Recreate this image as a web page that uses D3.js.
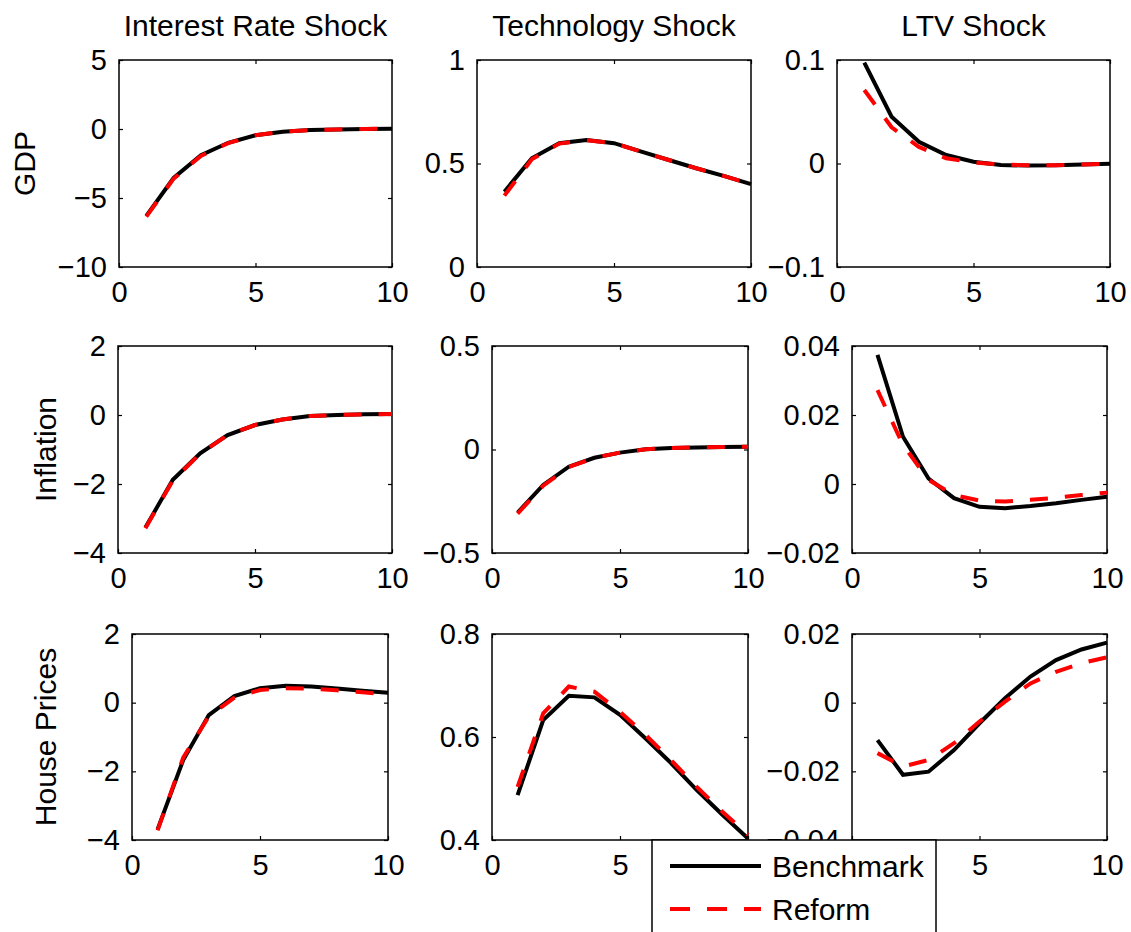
<!DOCTYPE html>
<html>
<head>
<meta charset="utf-8">
<script src="https://cdn.jsdelivr.net/npm/d3@7"></script>
<style>
  body { margin: 0; background: #fff; }
  text { font-family: "Liberation Sans", Arial, sans-serif; fill: #000; }
</style>
</head>
<body>
<div id="chart"></div>
<script>
var width = 1131;
var height = 932;

// data
var steps = [1, 2, 3, 4, 5, 6, 7, 8, 9, 10];
var shocks = ["Interest Rate Shock", "Technology Shock", "LTV Shock"];
var variables = ["GDP", "Inflation", "House Prices"];
var seriesNames = ["Benchmark", "Reform"];
var xTicks = [0, 5, 10];

var gdpRateBench   = [-6.3, -3.55, -1.9, -1.0, -0.45, -0.2, -0.08, -0.03, 0, 0.02];
var gdpRateReform  = [-6.35, -3.6, -1.95, -1.02, -0.45, -0.2, -0.08, -0.03, 0, 0.02];
var gdpTechBench   = [0.364, 0.525, 0.598, 0.613, 0.598, 0.557, 0.517, 0.477, 0.44, 0.4];
var gdpTechReform  = [0.345, 0.52, 0.596, 0.612, 0.598, 0.557, 0.517, 0.477, 0.44, 0.4];
var gdpLtvBench    = [0.0974, 0.0452, 0.021, 0.0082, 0.0017, -0.0015, -0.002, -0.0018, -0.001, -0.0003];
var gdpLtvReform   = [0.071, 0.035, 0.016, 0.005, 0.001, -0.001, -0.0018, -0.0017, -0.001, -0.0003];

var inflRateBench  = [-3.26, -1.88, -1.11, -0.58, -0.29, -0.13, -0.03, 0, 0.02, 0.03];
var inflRateReform = [-3.28, -1.9, -1.12, -0.58, -0.29, -0.13, -0.03, 0, 0.02, 0.03];
var inflTechBench  = [-0.305, -0.171, -0.083, -0.04, -0.015, 0.001, 0.007, 0.01, 0.012, 0.013];
var inflTechReform = [-0.31, -0.175, -0.085, -0.04, -0.015, 0.001, 0.007, 0.01, 0.012, 0.013];
var inflLtvBench   = [0.0374, 0.0137, 0.0016, -0.0041, -0.0066, -0.007, -0.0064, -0.0056, -0.0046, -0.0037];
var inflLtvReform  = [0.0272, 0.0113, 0.0012, -0.0032, -0.0048, -0.0051, -0.0046, -0.004, -0.0032, -0.0025];

var housRateBench  = [-3.69, -1.67, -0.36, 0.195, 0.42, 0.49, 0.47, 0.41, 0.35, 0.29];
var housRateReform = [-3.72, -1.6, -0.4, 0.15, 0.37, 0.42, 0.41, 0.36, 0.3, 0.24];
var housTechBench  = [0.487, 0.633, 0.68, 0.677, 0.643, 0.597, 0.549, 0.497, 0.449, 0.403];
var housTechReform = [0.503, 0.646, 0.698, 0.688, 0.649, 0.604, 0.555, 0.503, 0.455, 0.41];
var housLtvBench   = [-0.0109, -0.021, -0.0201, -0.0138, -0.006, 0.0013, 0.0076, 0.0124, 0.0155, 0.0175];
var housLtvReform  = [-0.0147, -0.0186, -0.0167, -0.0118, -0.0055, 0.0003, 0.0056, 0.009, 0.0115, 0.0132];

var gdpTicks  = [[-10, -5, 0, 5], [0, 0.5, 1], [-0.1, 0, 0.1]];
var inflTicks = [[-4, -2, 0, 2], [-0.5, 0, 0.5], [-0.02, 0, 0.02, 0.04]];
var housTicks = [[-4, -2, 0, 2], [0.4, 0.6, 0.8], [-0.04, -0.02, 0, 0.02]];

// panels, row by row
var panels = [
  { row: 0, col: 0, bench: gdpRateBench,   reform: gdpRateReform,   ticks: gdpTicks[0] },
  { row: 0, col: 1, bench: gdpTechBench,   reform: gdpTechReform,   ticks: gdpTicks[1] },
  { row: 0, col: 2, bench: gdpLtvBench,    reform: gdpLtvReform,    ticks: gdpTicks[2] },
  { row: 1, col: 0, bench: inflRateBench,  reform: inflRateReform,  ticks: inflTicks[0] },
  { row: 1, col: 1, bench: inflTechBench,  reform: inflTechReform,  ticks: inflTicks[1] },
  { row: 1, col: 2, bench: inflLtvBench,   reform: inflLtvReform,   ticks: inflTicks[2] },
  { row: 2, col: 0, bench: housRateBench,  reform: housRateReform,  ticks: housTicks[0] },
  { row: 2, col: 1, bench: housTechBench,  reform: housTechReform,  ticks: housTicks[1] },
  { row: 2, col: 2, bench: housLtvBench,   reform: housLtvReform,   ticks: housTicks[2] }
];

// plot boxes [left, top, right, bottom]
var boxes = [
  [119, 60, 392, 267], [477, 60, 751, 267], [837, 60, 1110, 267],
  [118, 346, 392, 553], [492, 346, 748, 553], [852, 346, 1107, 553],
  [132, 634, 388, 840], [492, 634, 748, 840], [852, 634, 1107, 840]
];
var rowLabelX = [24, 45, 45];
var fontSize = 30;
var tickFontSize = 29;
var fmt = d3.format("");

var svg = d3.select("#chart")
            .append("svg")
            .attr("width", width)
            .attr("height", height);

panels.forEach(function(p, i) {
  var b = boxes[i];
  var x = d3.scaleLinear().domain([0, 10]).range([b[0], b[2]]);
  var y = d3.scaleLinear().domain(d3.extent(p.ticks)).range([b[3], b[1]]);

  var g = svg.append("g");

  // ticks, inward on all four sides
  g.append("g")
      .attr("transform", "translate(0," + b[3] + ")")
      .call(d3.axisBottom(x).tickValues(xTicks).tickFormat(fmt).tickSizeInner(-4).tickSizeOuter(0).tickPadding(14));
  g.append("g")
      .attr("transform", "translate(0," + b[1] + ")")
      .call(d3.axisTop(x).tickValues(xTicks).tickFormat("").tickSizeInner(-4).tickSizeOuter(0));
  g.append("g")
      .attr("transform", "translate(" + b[0] + ",0)")
      .call(d3.axisLeft(y).tickValues(p.ticks).tickFormat(fmt).tickSizeInner(-4).tickSizeOuter(0).tickPadding(12));
  g.append("g")
      .attr("transform", "translate(" + b[2] + ",0)")
      .call(d3.axisRight(y).tickValues(p.ticks).tickFormat("").tickSizeInner(-4).tickSizeOuter(0));

  g.selectAll(".domain").remove();
  g.selectAll(".tick line").attr("stroke", "#000").attr("stroke-width", 1.2);
  g.selectAll(".tick text")
      .attr("font-size", tickFontSize)
      .attr("font-family", "Liberation Sans, Arial, sans-serif")
      .attr("fill", "#000");

  g.append("rect")
      .attr("x", b[0])
      .attr("y", b[1])
      .attr("width", b[2] - b[0])
      .attr("height", b[3] - b[1])
      .attr("fill", "none")
      .attr("stroke", "#000")
      .attr("stroke-width", 1.5);

  var line = d3.line()
      .x(function(d, j) { return x(steps[j]); })
      .y(function(d) { return y(d); });

  g.append("path")
      .datum(p.bench)
      .attr("d", line)
      .attr("fill", "none")
      .attr("stroke", "#000")
      .attr("stroke-width", 4);

  g.append("path")
      .datum(p.reform)
      .attr("d", line)
      .attr("fill", "none")
      .attr("stroke", "#ff0000")
      .attr("stroke-width", 4)
      .attr("stroke-dasharray", "18,17");

  if (p.row === 0) {
    svg.append("text")
        .attr("x", (b[0] + b[2]) / 2)
        .attr("y", 36)
        .attr("text-anchor", "middle")
        .attr("font-size", fontSize)
        .text(shocks[p.col]);
  }
  if (p.col === 0) {
    svg.append("text")
        .attr("transform", "translate(" + rowLabelX[p.row] + "," + (b[1] + b[3]) / 2 + ") rotate(-90)")
        .attr("text-anchor", "middle")
        .attr("dominant-baseline", "central")
        .attr("font-size", fontSize)
        .text(variables[p.row]);
  }
});

// legend
var legend = svg.append("g");
legend.append("rect")
    .attr("x", 652)
    .attr("y", 840)
    .attr("width", 284)
    .attr("height", 110)
    .attr("fill", "#fff")
    .attr("stroke", "#000")
    .attr("stroke-width", 1.5);

var item = legend.selectAll(".item")
    .data(seriesNames)
    .enter().append("g")
      .attr("class", "item")
      .attr("transform", function(d, i) { return "translate(0," + (866 + i * 43) + ")"; });

item.append("line")
    .attr("x1", 670)
    .attr("x2", 761)
    .attr("stroke", function(d, i) { return i === 0 ? "#000" : "#ff0000"; })
    .attr("stroke-width", 4)
    .attr("stroke-dasharray", function(d, i) { return i === 0 ? null : "20,17"; });

item.append("text")
    .attr("x", 772)
    .attr("y", 0)
    .attr("dy", "0.36em")
    .attr("font-size", fontSize)
    .text(function(d) { return d; });
</script>
</body>
</html>
